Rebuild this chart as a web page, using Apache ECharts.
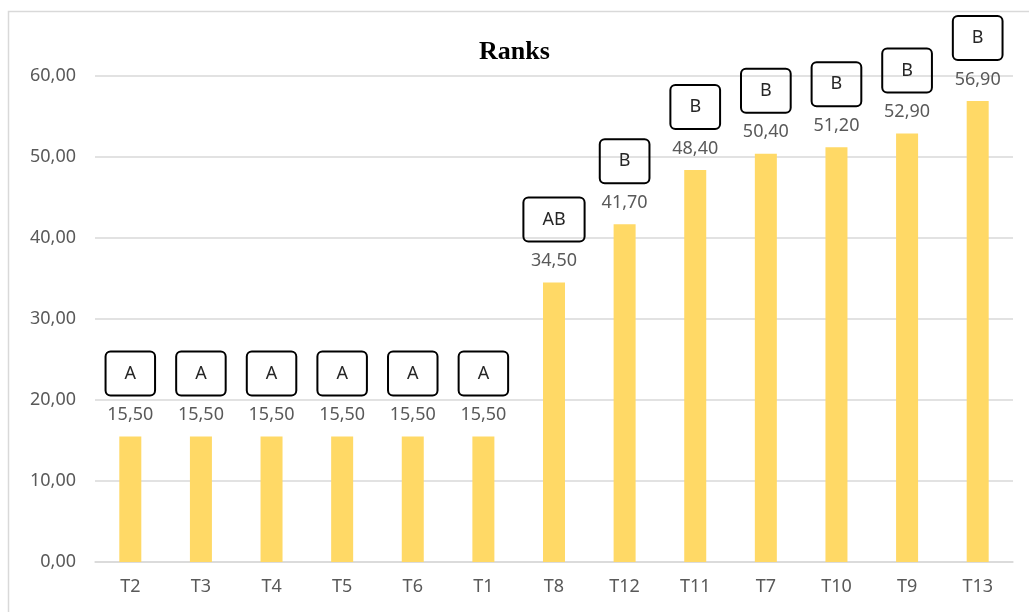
<!DOCTYPE html>
<html>
<head>
<meta charset="utf-8">
<script src="https://cdn.jsdelivr.net/npm/echarts@6/dist/echarts.min.js"></script>
<style>
  html, body { margin: 0; padding: 0; background: #fff; }
  #chart { width: 1029px; height: 612px; }
</style>
</head>
<body>
<div id="chart"></div>
<script>
// data
var categories = ['T2', 'T3', 'T4', 'T5', 'T6', 'T1', 'T8', 'T12', 'T11', 'T7', 'T10', 'T9', 'T13'];
var ranks = [15.5, 15.5, 15.5, 15.5, 15.5, 15.5, 34.5, 41.7, 48.4, 50.4, 51.2, 52.9, 56.9];
var groups = ['A', 'A', 'A', 'A', 'A', 'A', 'AB', 'B', 'B', 'B', 'B', 'B', 'B'];

function fmt(v) {
  return v.toFixed(2).replace('.', ',');
}

var chart = echarts.init(document.getElementById('chart'));

var option = {
  backgroundColor: '#ffffff',
  animation: false,
  title: {
    text: 'Ranks',
    left: 'center',
    top: 34,
    textStyle: {
      fontFamily: 'Liberation Serif',
      fontWeight: 'bold',
      fontSize: 26,
      color: '#000'
    }
  },
  graphic: [{
    type: 'rect',
    shape: { x: 8.5, y: 11.5, width: 1040, height: 640 },
    style: { fill: 'none', stroke: '#d9d9d9', lineWidth: 1.5 },
    silent: true
  }],
  grid: {
    left: 95,
    right: 16,
    top: 76,
    bottom: 50
  },
  xAxis: {
    type: 'category',
    data: categories,
    axisLine: { lineStyle: { color: '#d9d9d9', width: 1.5 } },
    axisTick: { show: false },
    axisLabel: {
      color: '#595959',
      fontFamily: 'Noto Sans',
      fontSize: 18,
      margin: 16
    }
  },
  yAxis: {
    type: 'value',
    min: 0,
    max: 60,
    interval: 10,
    axisLine: { show: false },
    axisTick: { show: false },
    splitLine: { lineStyle: { color: '#d9d9d9', width: 1.5 } },
    axisLabel: {
      color: '#595959',
      fontFamily: 'Noto Sans',
      fontSize: 18,
      margin: 19,
      formatter: function (v) { return fmt(v); }
    }
  },
  series: [{
    type: 'bar',
    data: ranks,
    barWidth: 22,
    itemStyle: { color: '#FFD966' },
    label: {
      show: true,
      position: 'top',
      distance: 2,
      align: 'center',
      formatter: function (p) {
        return '{box|' + groups[p.dataIndex] + '}\n{val|' + fmt(p.value) + '}';
      },
      rich: {
        box: {
          fontFamily: 'Noto Sans',
          fontSize: 18,
          color: '#262626',
          lineHeight: 44,
          height: 44,
          borderColor: '#000',
          borderWidth: 2,
          borderRadius: 5,
          padding: [0, 19],
          align: 'center'
        },
        val: {
          fontFamily: 'Noto Sans',
          fontSize: 18,
          color: '#595959',
          lineHeight: 39,
          align: 'center'
        }
      }
    }
  }]
};

chart.setOption(option);
</script>
</body>
</html>
